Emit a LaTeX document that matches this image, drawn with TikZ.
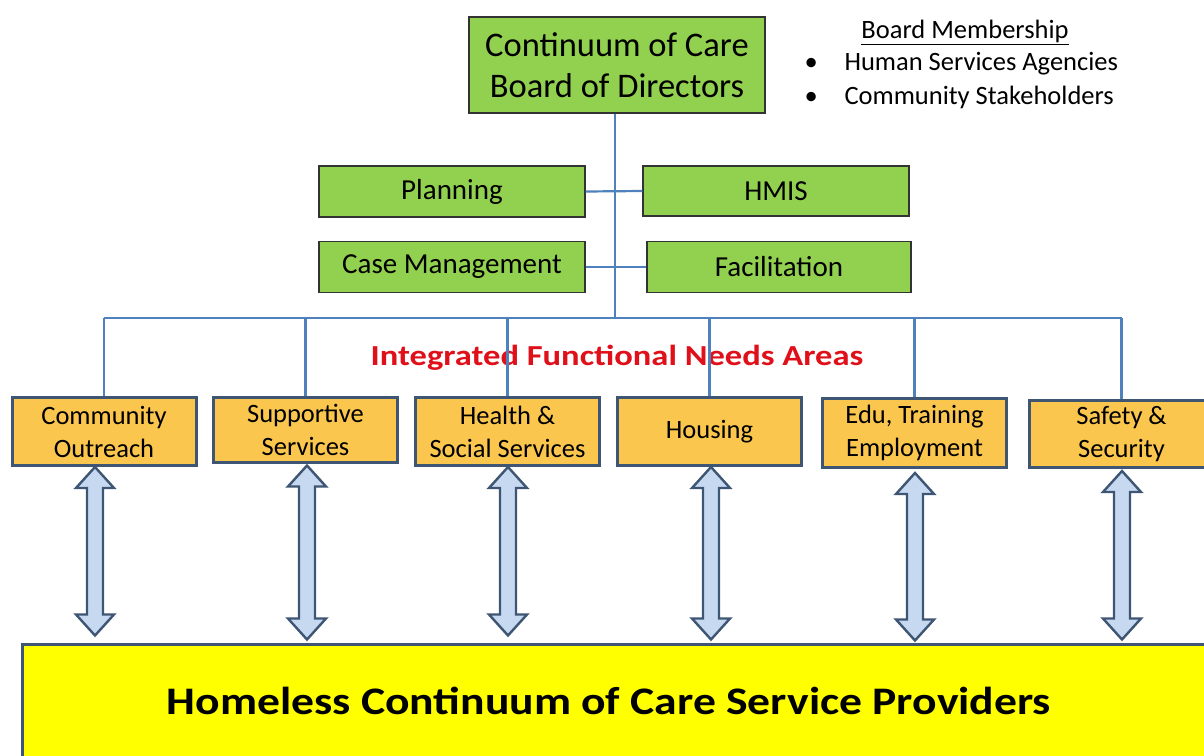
\documentclass[tikz,border=0pt]{standalone}
\usepackage{fontspec}
\usepackage{graphicx}
\setmainfont{Carlito}
\usetikzlibrary{calc}
\definecolor{boardgreen}{HTML}{92D050}
\definecolor{areaorange}{HTML}{FAC64E}
\definecolor{provyellow}{HTML}{FFFF00}
\definecolor{linkblue}{HTML}{4F81BD}
\definecolor{edgeslate}{HTML}{3E5573}
\definecolor{arrowfill}{HTML}{C6D9F1}
\definecolor{labelred}{HTML}{E0101A}
\tikzset{
  greenbox/.style={draw=black!80, line width=1.2pt, fill=boardgreen, inner sep=0pt, align=center, font=\fontsize{29}{35}\selectfont},
  areabox/.style={draw=edgeslate, line width=3pt, fill=areaorange, inner sep=0pt, align=center, minimum width=184pt, font=\fontsize{26.5}{33}\selectfont},
  membertext/.style={font=\fontsize{26.5}{30}\selectfont},
  tree/.style={draw=linkblue, line width=2.2pt},
  linkarrow/.style={draw=edgeslate, line width=2.4pt, fill=arrowfill, line join=miter},
}
% vertical two-headed block arrow between two points stacked one above the other
\newcommand\vlinkarrow[2]{%
  \draw[linkarrow] let \p1=(#1), \p2=(#2) in
    (\x1,\y1) -- ++(19pt,-21pt) -- ++(-11pt,0pt) -- (\x1+8pt,\y2+21pt) -- ++(11pt,0pt)
    -- (\x1,\y2) -- ++(-19pt,21pt) -- ++(11pt,0pt) -- (\x1-8pt,\y1-21pt) -- ++(-11pt,0pt) -- cycle;}
\begin{document}
\begin{tikzpicture}[x=1pt,y=-1pt]
\useasboundingbox[fill=white] (0,0) rectangle (1204,755);

% board of directors and its membership note
\node[greenbox, minimum width=296pt, minimum height=96pt, font=\fontsize{34.5}{41}\selectfont] (board) at (617,65) {Continuum of Care\\Board of Directors};
\node[membertext] (memtitle) at (965,32) {\underline{Board Membership}};
\node[membertext, anchor=west] (mem1) at (801,64) {\makebox[40pt][l]{•}Human Services Agencies};
\node[membertext, anchor=west] (mem2) at (801,97) {\makebox[40pt][l]{•}Community Stakeholders};

% committees
\node[greenbox, minimum width=266pt, minimum height=51pt] (plan) at (452,191.5) {Planning};
\node[greenbox, minimum width=266pt, minimum height=50pt] (hmis) at (776,191) {HMIS};
\node[greenbox, minimum width=266pt, minimum height=51pt] (case) at (452,267) {Case Management};
\node[greenbox, minimum width=264pt, minimum height=51pt] (facil) at (779,267) {Facilitation};

% functional need areas
\node[areabox, minimum height=68pt] (a1) at (104,431.5) {Community\\Outreach};
\node[areabox, minimum height=65pt] (a2) at (305.5,429.5) {Supportive\\Services};
\node[areabox, minimum height=68pt] (a3) at (507.5,431.5) {Health \&\\Social Services};
\node[areabox, minimum height=68pt] (a4) at (709.5,431.5) {Housing};
\node[areabox, minimum height=69pt] (a5) at (914.5,433) {Edu, Training\\Employment};
\node[areabox, minimum height=67pt] (a6) at (1121.5,434) {Safety \&\\Security};

\node[font=\bfseries\fontsize{29}{34}\selectfont, text=labelred] (ifna) at (617,358) {\scalebox{1.19}[1]{Integrated Functional Needs Areas}};

% service providers
\node[draw=edgeslate, line width=3pt, fill=provyellow, minimum width=1200pt, minimum height=126pt, inner sep=0pt] (prov) at (622,707) {};
\node[font=\bfseries\fontsize{39}{44}\selectfont] (provtext) at (609,701) {\scalebox{1.17}[1]{Homeless Continuum of Care Service Providers}};

% organisation tree
\coordinate (bus) at (615,318);
\draw[tree] (board.south -| bus) -- (bus);
\draw[tree] (plan.east) -- (hmis.west);
\draw[tree] (case.east) -- (facil.west);
\draw[tree] (a1.north |- bus) -- (a6.north |- bus);
\foreach \a in {a1,a2,a3,a4,a5,a6}
  \draw[tree] (\a.north |- bus) -- (\a.north);

% links between need areas and providers
\vlinkarrow{$(a1.south)+(-9,0)$}{$(a1.south |- prov.north)+(-9,-7)$}
\vlinkarrow{$(a2.south)+(1.5,2)$}{$(a2.south |- prov.north)+(1.5,-3)$}
\vlinkarrow{$(a3.south)+(0.5,0)$}{$(a3.south |- prov.north)+(0.5,-7)$}
\vlinkarrow{$(a4.south)+(1.5,0)$}{$(a4.south |- prov.north)+(1.5,-3)$}
\vlinkarrow{$(a5.south)+(0.5,4)$}{$(a5.south |- prov.north)+(0.5,-2)$}
\vlinkarrow{$(a6.south)+(0.5,2)$}{$(a6.south |- prov.north)+(0.5,-3)$}
\end{tikzpicture}
\end{document}
